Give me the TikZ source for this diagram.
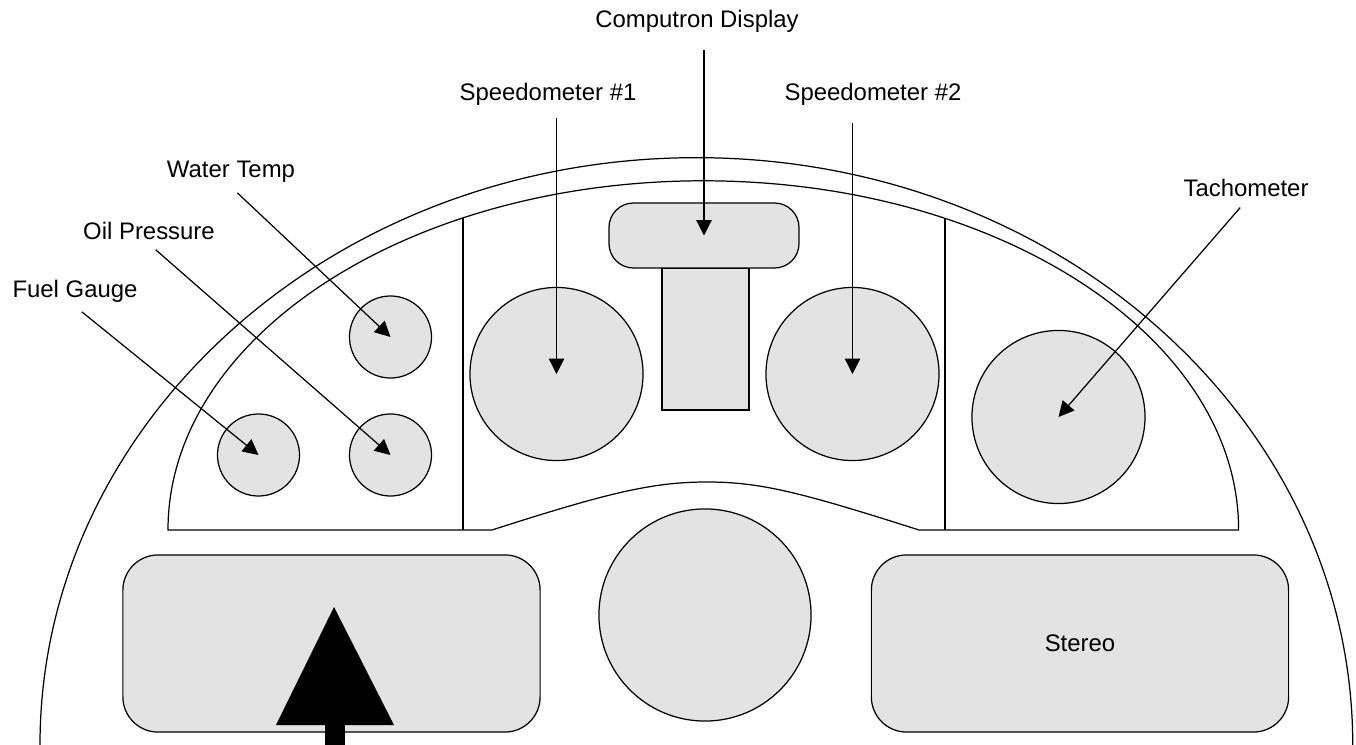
\documentclass[tikz,border=0pt]{standalone}
\usepackage{fontspec}
\setmainfont{Liberation Sans}
\usetikzlibrary{arrows.meta,positioning}
\definecolor{dashgray}{HTML}{E3E3E3}

\begin{document}
\begin{tikzpicture}[x=0.01cm, y=-0.01cm, line width=0.35pt,
    gauge/.style={circle, draw, fill=dashgray, inner sep=0pt},
    slab/.style={rectangle, rounded corners=10pt, draw, fill=dashgray,
      minimum width=4.17cm, minimum height=1.77cm},
    tag/.style={font=\fontsize{6.8}{8}\selectfont, inner sep=1pt},
    pointer/.style={-{Triangle[length=4.4pt, width=4.4pt]}, shorten <=2.5pt}]
  \useasboundingbox (0,0) rectangle (1356,745);

  % Outer rim
  \draw (40,745) arc[start angle=180, end angle=0, x radius=6.56cm, y radius=5.87cm];

  % Instrument panel
  \draw (168,530) arc[start angle=180, end angle=0, x radius=5.35cm, y radius=3.49cm]
    -- (919,530) .. controls (800,492) and (760,482) .. (707,482)
    .. controls (654,482) and (610,492) .. (492,530) -- cycle;
  \draw (463,218) -- (463,530);
  \draw (945,219) -- (945,530);

  % Gauges
  \node[gauge, minimum size=0.82cm] (fuelg) at (258.5,455) {};
  \node[gauge, minimum size=0.82cm] (oilg) at (390.5,455) {};
  \node[gauge, minimum size=0.82cm] (waterg) at (390.5,337) {};
  \node[gauge, minimum size=1.73cm] (spdAg) at (556.5,374) {};
  \node[gauge, minimum size=1.73cm] (spdBg) at (852.5,374) {};
  \node[gauge, minimum size=1.73cm] (tachg) at (1058.5,417) {};

  % Computron
  \node[draw, fill=dashgray, minimum width=0.87cm, minimum height=1.42cm] (stem) at (705.5,339) {};
  \node[draw, fill=dashgray, rounded corners=7pt, minimum width=1.9cm, minimum height=0.65cm] (compbox) at (704,235.5) {};

  % Lower row
  \node[slab] (wheel) at (331.5,643.5) {};
  \node[gauge, minimum size=2.12cm] (knob) at (705,615) {};
  \node[slab, font=\fontsize{6.8}{8}\selectfont] (stereo) at (1080,643.5) {Stereo};
  \fill (334,607) -- (394,725) -- (276,725) -- cycle;
  \fill (325,725) rectangle (345,745);

  % Labels
  \node[tag] (fuel) at (75,291) {Fuel Gauge};
  \node[tag] (oil) at (149,231) {Oil Pressure};
  \node[tag] (water) at (231,172) {Water Temp};
  \node[tag] (spdA) at (548,94) {Speedometer \#1};
  \node[tag] (comp) at (697,21) {Computron Display};
  \node[tag] (spdB) at (873,94) {Speedometer \#2};
  \node[tag] (tach) at (1246,188) {Tachometer};

  % Pointers
  \draw[pointer] (fuel.south) -- (fuelg.center);
  \draw[pointer] (oil.south) -- (oilg.center);
  \draw[pointer] (water.south) -- (waterg.center);
  \draw[pointer] (spdA.south -| spdAg.center) -- (spdAg.center);
  \draw[pointer, shorten <=4pt] (comp.south -| compbox.center) -- (compbox.center);
  \draw[pointer, shorten <=4pt] (spdB.south -| spdBg.center) -- (spdBg.center);
  \draw[pointer] (tach.south) -- (tachg.center);
\end{tikzpicture}
\end{document}
